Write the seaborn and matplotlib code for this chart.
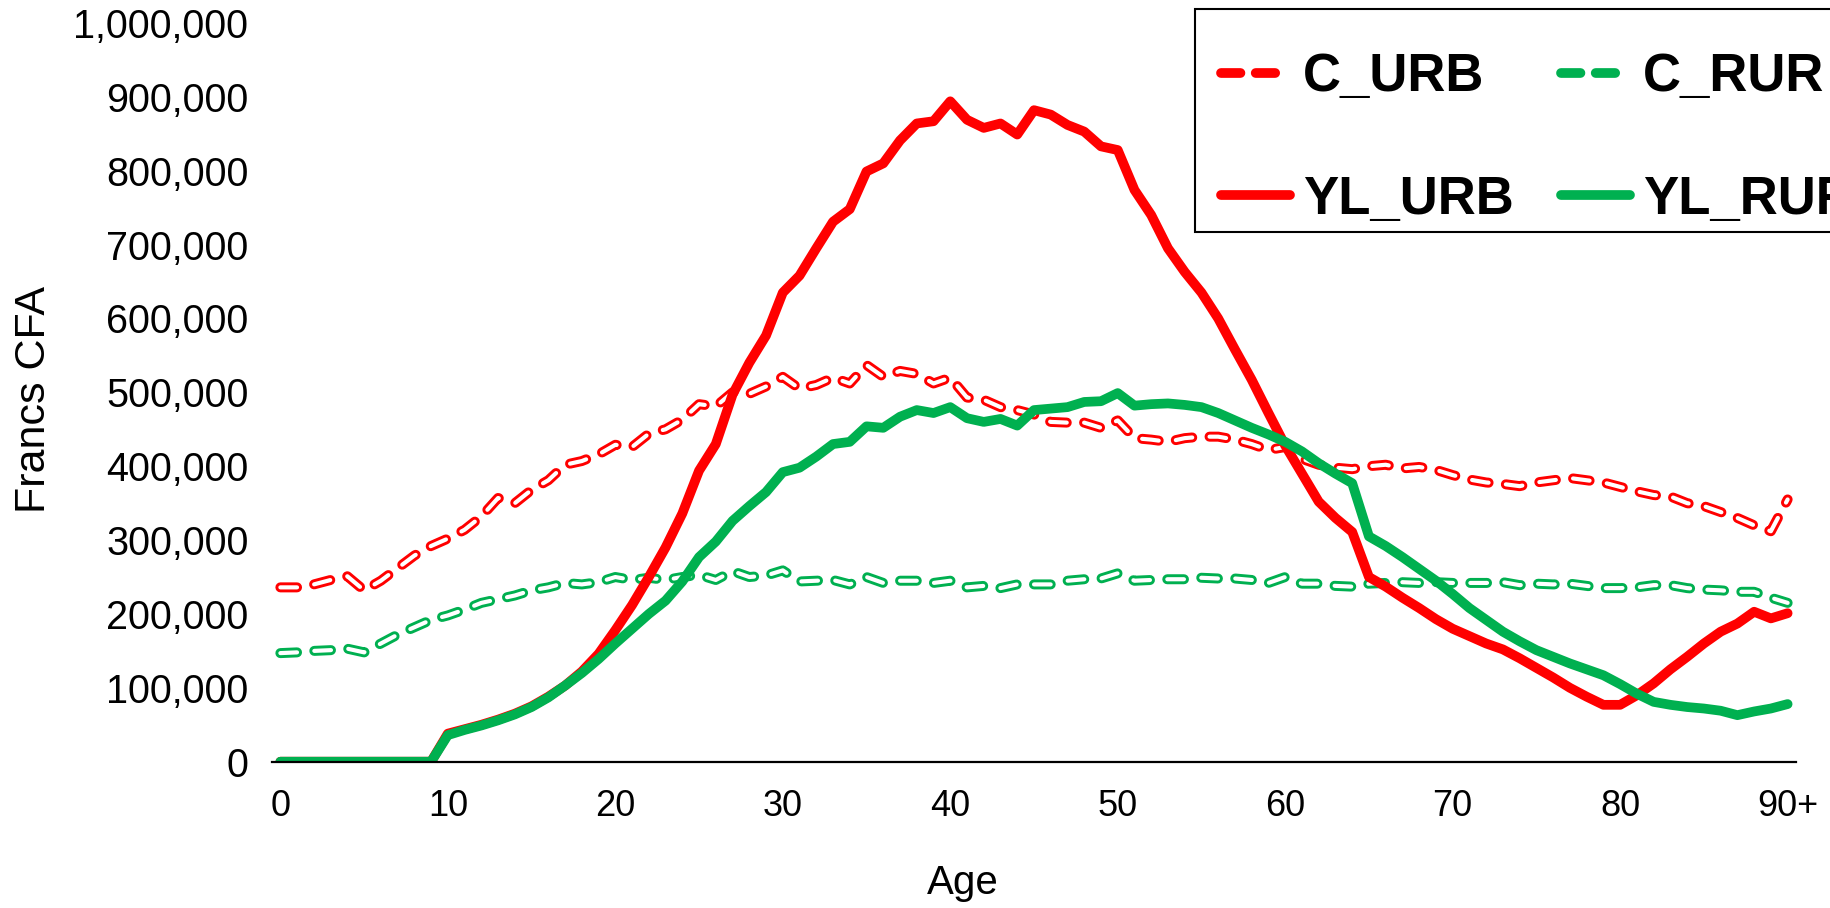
import numpy as np
import seaborn as sns
import matplotlib.pyplot as plt
import matplotlib.patheffects as pe
from matplotlib.lines import Line2D
from matplotlib.patches import Rectangle
from matplotlib.ticker import FuncFormatter
from matplotlib.font_manager import FontProperties

# Donnees (en milliers de Francs CFA), ages 0..90+
ages = list(range(91))

c_urb = [236, 236, 240, 246, 251, 232, 245, 262, 279, 292,
         302, 314, 332, 357, 350, 368, 381, 402, 407, 416,
         429, 426, 444, 450, 463, 484, 481, 500, 498, 508,
         521, 505, 510, 520, 512, 537, 521, 529, 525, 512,
         520, 493, 490, 480, 476, 470, 460, 459, 459, 452,
         462, 438, 436, 433, 438, 440, 440, 436, 430, 422,
         426, 410, 402, 398, 396, 400, 402, 397, 399, 395,
         388, 382, 378, 376, 373, 378, 381, 384, 381, 378,
         372, 366, 361, 359, 350, 346, 338, 330, 320, 312, 355]

c_rur = [147, 148, 150, 151, 153, 148, 160, 172, 182, 192,
         198, 206, 215, 220, 225, 232, 236, 242, 240, 243,
         250, 246, 249, 246, 250, 253, 246, 258, 250, 252,
         259, 244, 245, 246, 240, 250, 242, 245, 245, 242,
         245, 236, 238, 235, 240, 240, 240, 245, 247, 248,
         255, 245, 246, 247, 247, 249, 248, 248, 246, 242,
         250, 241, 241, 238, 237, 241, 242, 243, 242, 243,
         242, 242, 242, 243, 239, 241, 240, 241, 238, 235,
         235, 236, 239, 239, 235, 233, 232, 230, 230, 222, 215]

yl_urb = [0, 0, 0, 0, 0, 0, 0, 0, 0, 0,
          38, 44, 50, 57, 65, 75, 88, 103, 122, 146,
          178, 212, 250, 290, 336, 394, 430, 497, 540, 577,
          635, 658, 695, 731, 748, 799, 810, 841, 864, 867,
          894, 869, 858, 864, 849, 882, 876, 862, 853, 833,
          828, 774, 740, 695, 663, 635, 600, 558, 517, 472,
          428, 390, 352, 330, 311, 250, 237, 222, 208, 193,
          180, 170, 160, 152, 140, 127, 114, 100, 88, 77,
          77, 90, 106, 125, 142, 160, 176, 187, 203, 194, 201]

yl_rur = [0, 0, 0, 0, 0, 0, 0, 0, 0, 0,
          36, 43, 49, 56, 64, 74, 87, 103, 120, 139,
          160, 180, 200, 218, 244, 277, 298, 326, 346, 365,
          392, 398, 413, 430, 433, 454, 452, 467, 476, 472,
          480, 465, 460, 464, 455, 476, 478, 480, 487, 488,
          499, 482, 484, 485, 483, 480, 472, 462, 452, 443,
          433, 420, 404, 390, 377, 305, 292, 277, 261, 245,
          227, 208, 192, 176, 163, 151, 142, 133, 125, 117,
          105, 92, 81, 77, 74, 72, 69, 63, 68, 72, 78]

tick_ages = [0, 10, 20, 30, 40, 50, 60, 70, 80, 90]
tick_labels = ['0', '10', '20', '30', '40', '50', '60', '70', '80', '90+']

RED = '#FF0000'
GREEN = '#00B050'

sns.set_theme(style='white')
plt.rcParams['font.family'] = ['Liberation Sans', 'DejaVu Sans']
plt.rcParams['lines.scale_dashes'] = False
plt.rcParams['text.color'] = 'black'
plt.rcParams['axes.labelcolor'] = 'black'

fig = plt.figure(figsize=(18.31, 9.08), dpi=100)
ax = fig.add_axes([272 / 1831, 1 - 761.7 / 908, 1524 / 1831, 738.7 / 908])

dash = (0, (12, 12.5))


def hollow_dashed(y, col):
    sns.lineplot(x=ages, y=np.array(y) * 1000, ax=ax, color='white', linewidth=3.0,
                 linestyle=dash, dash_capstyle='round', errorbar=None,
                 path_effects=[pe.Stroke(linewidth=7.2, foreground=col), pe.Normal()])


hollow_dashed(c_urb, RED)
hollow_dashed(c_rur, GREEN)
sns.lineplot(x=ages, y=np.array(yl_urb) * 1000, ax=ax, color=RED, linewidth=7,
             errorbar=None, solid_joinstyle='round', solid_capstyle='round')
sns.lineplot(x=ages, y=np.array(yl_rur) * 1000, ax=ax, color=GREEN, linewidth=7,
             errorbar=None, solid_joinstyle='round', solid_capstyle='round')

ax.set_xlim(-0.5, 90.5)
ax.set_ylim(0, 1000000)
ax.set_xticks(tick_ages)
ax.set_xticklabels(tick_labels)
ax.set_yticks(np.arange(0, 1000001, 100000))
ax.yaxis.set_major_formatter(FuncFormatter(lambda v, p: f'{int(v):,}'))
ax.tick_params(axis='both', length=0, colors='black')
ax.tick_params(axis='x', pad=20, labelsize=26)
ax.tick_params(axis='y', pad=17, labelsize=28.5)

for s in ['left', 'right', 'top']:
    ax.spines[s].set_visible(False)
ax.spines['bottom'].set_color('black')
ax.spines['bottom'].set_linewidth(1.6)
ax.grid(False)

ax.set_xlabel('Age', fontsize=29, color='black', va='center')
ax.xaxis.set_label_coords(0.453, -0.164)
ax.set_ylabel('Francs CFA', fontsize=31, color='black', va='center',
              family=['Liberation Sans Narrow', 'Liberation Sans'])
ax.yaxis.set_label_coords(-0.156, 0.49)

# cadre de la legende (depasse le bord droit, comme dans l'original)
fig.patches.append(Rectangle((1195 / 1831, 1 - 232 / 908), 700 / 1831, 223 / 908,
                             transform=fig.transFigure, facecolor='white',
                             edgecolor='black', linewidth=1.5, zorder=4, clip_on=False))

handles = [
    Line2D([], [], color=RED, lw=7, linestyle=(0, (14, 11)), dash_capstyle='round'),
    Line2D([], [], color=RED, lw=7, solid_capstyle='round'),
    Line2D([], [], color=GREEN, lw=7, linestyle=(0, (14, 11)), dash_capstyle='round'),
    Line2D([], [], color=GREEN, lw=7, solid_capstyle='round'),
]
labels = ['C_URB', 'YL_URB', 'C_RUR', 'YL_RUR']
leg = fig.legend(handles, labels, loc='upper left', bbox_to_anchor=(1221 / 1831, 1 - 52 / 908),
                 ncol=2, frameon=False, labelcolor='black',
                 prop=FontProperties(family='Liberation Sans', weight='bold', size=38),
                 handlelength=1.3, handletextpad=0.25, columnspacing=0.9,
                 labelspacing=1.38, borderpad=0, borderaxespad=0)
leg.set_zorder(5)

fig.savefig('out.png', dpi=100)
